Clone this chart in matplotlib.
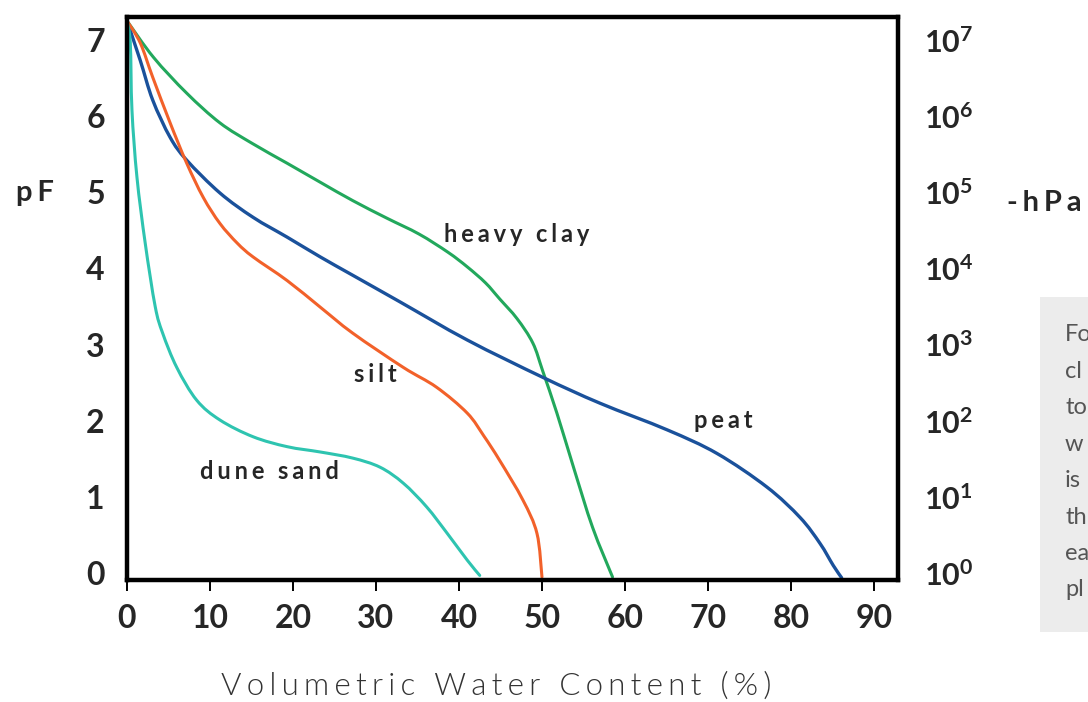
import numpy as np
import matplotlib
matplotlib.use("Agg")
import matplotlib.pyplot as plt
from matplotlib.patches import Rectangle, PathPatch
from matplotlib.path import Path

# ── Data: volumetric water content (%) vs pF ──────────────────────────────────
clay_x  = [0, 3.2, 7.2, 11.2, 15.1, 19.3, 23.3, 27.2, 31.3, 35.2, 38.7, 41.0,
           43.2, 44.9, 47.0, 48.9, 50.1, 51.8, 53.8, 56.1, 58.5]
clay_pf = [7.25, 6.77, 6.30, 5.91, 5.64, 5.38, 5.13, 4.89, 4.66, 4.45, 4.21, 4.02,
           3.81, 3.60, 3.34, 3.02, 2.65, 2.10, 1.39, 0.60, -0.05]

peat_x  = [0, 1.6, 3.1, 5.2, 7.2, 11.2, 15.2, 19.3, 23.3, 27.2, 32.9, 41.0,
           50.1, 57.0, 65.1, 71.1, 77.1, 81.1, 83.5, 85.1, 86.1]
peat_pf = [7.25, 6.73, 6.21, 5.72, 5.42, 4.99, 4.67, 4.41, 4.15, 3.91, 3.56, 3.06,
           2.57, 2.23, 1.88, 1.57, 1.13, 0.73, 0.39, 0.10, -0.06]

silt_x  = [0, 1.6, 3.1, 5.2, 7.2, 9.2, 11.2, 13.3, 15.2, 19.3, 23.3, 27.2,
           33.3, 37.3, 41.0, 43.0, 44.9, 47.7, 49.4, 50.0]
silt_pf = [7.25, 6.96, 6.51, 5.91, 5.38, 4.93, 4.59, 4.33, 4.15, 3.84, 3.49, 3.15,
           2.70, 2.44, 2.10, 1.80, 1.48, 0.96, 0.52, -0.05]

sand_x  = [0, 0.4, 0.6, 1.2, 2.2, 3.4, 4.3, 6.0, 8.4, 11.2, 15.2, 19.3, 23.3,
           27.2, 30.5, 33.3, 36.1, 38.6, 41.0, 42.5]
sand_pf = [7.25, 6.96, 6.08, 5.20, 4.33, 3.50, 3.15, 2.70, 2.27, 2.01, 1.79, 1.66,
           1.59, 1.51, 1.39, 1.18, 0.87, 0.52, 0.17, -0.03]

x_ticks = [0, 10, 20, 30, 40, 50, 60, 70, 80, 90]
pf_ticks = [0, 1, 2, 3, 4, 5, 6, 7]
hpa_labels = [r"$\mathregular{10^{%d}}$" % k for k in pf_ticks]

box_lines = ["Fo", "cl", "to", "w", "is", "th", "ea", "pl"]

# ── Style ──────────────────────────────────────────────────────────────────────
FONT = ["Lato", "DejaVu Sans"]
plt.rcParams["font.family"] = FONT
TXT = "#262626"
C_CLAY = "#22a85c"
C_PEAT = "#1a519b"
C_SILT = "#f2612a"
C_SAND = "#2ec4b0"


def spaced(s, gap="\u2006"):
    # wide letter spacing as in the original artwork
    return gap.join(s)


def smooth_curve(ax, xs, ys, color, lw):
    # draw the read points as one smooth Catmull-Rom / Bezier path
    p = np.column_stack([xs, ys]).astype(float)
    ext = np.vstack([p[0], p, p[-1]])
    verts = [p[0]]
    codes = [Path.MOVETO]
    for i in range(len(p) - 1):
        p0, p1, p2, p3 = ext[i], ext[i + 1], ext[i + 2], ext[i + 3]
        verts += [p1 + (p2 - p0) / 6, p2 - (p3 - p1) / 6, p2]
        codes += [Path.CURVE4] * 3
    ax.add_patch(PathPatch(Path(verts, codes), fill=False, edgecolor=color,
                           lw=lw, capstyle="round", joinstyle="round"))


fig = plt.figure(figsize=(10.88, 7.02), dpi=100)
ax = fig.add_axes([0.1167, 0.1738, 0.7087, 0.802])

smooth_curve(ax, clay_x, clay_pf, C_CLAY, 2.2)
smooth_curve(ax, peat_x, peat_pf, C_PEAT, 2.4)
smooth_curve(ax, silt_x, silt_pf, C_SILT, 2.2)
smooth_curve(ax, sand_x, sand_pf, C_SAND, 2.2)

ax.set_xlim(0, 92.9)
ax.set_ylim(-0.09, 7.3)

for s in ax.spines.values():
    s.set_linewidth(3.2)
    s.set_color("black")

ax.set_xticks(x_ticks)
ax.set_xticklabels([str(v) for v in x_ticks], fontsize=23, fontweight="bold", color=TXT)
ax.tick_params(axis="x", direction="out", length=8, width=1.4, pad=9, color="black")
ax.set_yticks(pf_ticks)
ax.set_yticklabels([str(v) for v in pf_ticks], fontsize=23, fontweight="bold", color=TXT)
ax.tick_params(axis="y", length=0, pad=16)

ax2 = ax.twinx()
ax2.set_ylim(ax.get_ylim())
ax2.set_yticks(pf_ticks)
ax2.set_yticklabels(hpa_labels, fontsize=22, fontweight="bold", color=TXT)
ax2.tick_params(axis="y", length=0, pad=19)
for s in ax2.spines.values():
    s.set_visible(False)

# curve labels
lab = dict(fontsize=17, fontweight="bold", color=TXT, ha="center", va="center")
ax.text(46.9, 4.44, spaced("heavy clay"), **lab)
ax.text(71.9, 2.00, spaced("peat"), **lab)
ax.text(29.9, 2.61, spaced("silt"), **lab)
ax.text(17.2, 1.34, spaced("dune sand"), **lab)

# axis titles
ax.set_xlabel(spaced("Volumetric Water Content (%)"), fontsize=22.5, fontweight=300,
              color="#333333", va="center")
ax.xaxis.set_label_coords(0.479, -0.188)
fig.text(35 / 1088, 1 - 193 / 702, spaced("pF"), fontsize=21, fontweight="bold",
         color=TXT, ha="center", va="center")
fig.text(1044 / 1088, 1 - 203 / 702, spaced("-hPa"), fontsize=21, fontweight="bold",
         color=TXT, ha="center", va="center")

# grey side note, cut off by the right edge
fig.patches.append(Rectangle((1040 / 1088, 1 - 632 / 702), 60 / 1088, 335 / 702,
                             transform=fig.transFigure, facecolor="#ececec",
                             edgecolor="none", zorder=0))
for i, t in enumerate(box_lines):
    fig.text(1065 / 1088, 1 - (335 + 36.4 * i) / 702, t, fontsize=17,
             color="#555555", ha="left", va="center")

fig.savefig("out.png", dpi=100)
